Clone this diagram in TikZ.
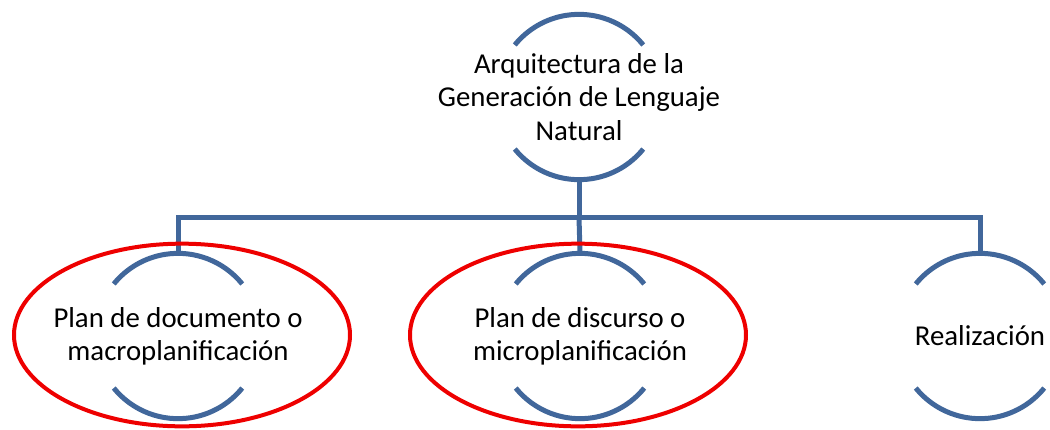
\documentclass[tikz,border=0pt]{standalone}
\usepackage{fontspec}
\setmainfont{Carlito}
\usepackage{xcolor}
\usepackage{tikz}
\usetikzlibrary{
  positioning,
  calc,
  shapes}
\definecolor{smartblue}{RGB}{65,103,155}
\definecolor{markred}{RGB}{238,0,0}
\tikzset{every picture/.style={font issue=\fontsize{21.6}{25}},
         font issue/.style={execute at begin picture={#1\selectfont}},
         unit/.style={rectangle, minimum height=124pt, inner sep=0pt, align=center},
         link/.style={draw=smartblue, line width=3.75pt},
         redring/.style={ellipse, draw=markred, line width=3pt, minimum width=252pt, minimum height=137pt}
        }
\newcommand*\halfarcs[1]{
            \draw[link] (#1.center) ++(39:62pt) arc[start angle=39, end angle=141, radius=62pt];
            \draw[link] (#1.center) ++(-141:62pt) arc[start angle=-141, end angle=-39, radius=62pt];}

\begin{document}
\begin{tikzpicture}[x=0.75pt, y=-0.75pt]
\useasboundingbox (0,0) rectangle (1050,429);
\node[unit] (arch) at (579,97){Arquitectura de la\\Generación de Lenguaje\\Natural};
\node[unit] (macro) at (178,336){Plan de documento o\\macroplanificación};
\node[unit] (micro) at (580,336){Plan de discurso o\\microplanificación};
\node[unit] (real) at (980,336){Realización};
\halfarcs{arch}
\halfarcs{macro}
\halfarcs{micro}
\halfarcs{real}
\coordinate (bar) at (arch.south |- 0,217);
\draw[link] (arch.south) -- (bar);
\draw[link] (macro.north) |- (bar) -| (real.north);
\draw[link] (bar) -- (micro.north);
\node[redring] (ring1) at (182,335){};
\node[redring] (ring2) at (578,335){};
\end{tikzpicture}
\end{document}
